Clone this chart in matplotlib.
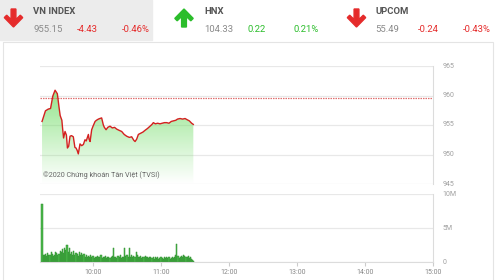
import numpy as np
import matplotlib.pyplot as plt
from matplotlib.patches import Polygon, Rectangle

# intraday VN-Index, minutes after 9:00
price_t = [15, 16, 18, 20.5, 22.5, 24.5, 26.5, 28.5, 30, 31, 32.5, 33, 34, 35.3, 36.5, 37.4, 38.5, 39.7,
           41, 42.6, 44, 45, 46, 47, 48.5, 50, 51.5, 52.9, 54, 55.9, 56.5, 57.4, 58.8, 60, 61.8, 63,
           64.7, 66, 67.6, 69.1, 70, 71.5, 73, 75, 77, 79, 80.9, 83, 85.3, 87.5, 89.7, 92, 94.1, 96,
           97.1, 98.5, 100, 102, 104, 105.9, 108, 110.3, 112, 113.2, 115, 117, 119.1, 121, 123, 125,
           127, 129, 130.9, 133, 134.5, 136.8, 139, 141.2, 143, 145, 147, 148.5]
price_v = [955.6, 956.2, 957.4, 957.7, 957.8, 959.9, 960.9, 960.3, 958.0, 956.6, 955.8, 954.7, 952.8,
           953.9, 953.3, 951.1, 951.4, 953.1, 953.2, 953.0, 951.2, 951.1, 950.7, 950.1, 951.8, 951.5,
           951.7, 952.5, 952.3, 953.4, 952.6, 952.2, 954.2, 954.8, 955.6, 955.8, 956.0, 956.1, 956.2,
           955.0, 954.6, 954.2, 954.6, 954.8, 954.5, 954.6, 954.3, 954.1, 953.9, 953.4, 953.1, 952.9,
           953.0, 952.4, 952.2, 952.6, 953.4, 953.6, 953.8, 954.1, 954.4, 954.8, 955.1, 955.4, 955.2,
           955.3, 955.2, 955.3, 955.4, 955.4, 955.3, 955.6, 955.7, 955.8, 956.0, 956.1, 956.0, 956.1,
           955.9, 955.7, 955.3, 955.1]
ref_close = 959.58

# volume per minute from 9:15 (millions)
volume = [8.5,
          1.1, 1.0, 1.2, 0.9, 1.3, 1.1, 1.0, 1.4, 1.2, 0.9, 1.1, 1.5, 1.3, 1.0, 1.2,
          1.6, 1.4, 1.9, 1.3, 2.1, 1.7, 2.5, 1.5, 2.0, 1.2,
          1.4, 1.1, 1.6, 1.0, 1.3, 1.2, 0.9, 1.4, 1.1, 1.3, 1.0, 1.2,
          0.8, 1.0, 0.7, 0.9, 0.8, 1.0, 0.7, 0.9, 0.6, 0.8, 0.7, 0.9, 0.8,
          0.7, 1.0, 0.6, 0.8, 0.7, 0.9, 0.6, 0.7, 0.8, 0.6, 0.7, 0.9,
          2.0,
          0.7, 0.8, 0.6, 0.9, 0.7, 1.0, 0.6, 0.8, 0.7,
          2.0, 0.9, 1.1, 0.7, 2.1, 0.8, 1.0,
          0.7, 0.9, 0.8, 1.5, 1.0,
          0.8, 0.7, 0.9, 0.6, 0.8, 0.7, 0.9, 0.7, 0.8, 0.6, 0.7, 0.8, 0.6, 0.7, 0.5, 0.7,
          0.6, 0.7, 0.5, 0.6, 0.7, 0.6, 0.5, 0.7, 0.6, 0.8, 0.6, 0.7, 0.5, 0.6, 0.7, 0.6, 0.8, 1.0,
          2.6, 0.9,
          0.6, 0.7, 0.9, 0.8, 1.0, 0.9, 0.8, 0.7, 0.9, 0.6, 0.7, 0.5, 0.3, 0.2]
vol_t = np.arange(15, 15 + len(volume))

x_ticks = [60, 120, 180, 240, 300, 360]
x_labels = ['10:00', '11:00', '12:00', '13:00', '14:00', '15:00']

# header indices
idx_names = ['VN INDEX', 'HNX', 'UPCOM']
idx_values = ['955.15', '104.33', '55.49']
idx_change = ['-4.43', '0.22', '-0.24']
idx_pct = ['-0.46%', '0.21%', '-0.43%']

RED = '#e52b2b'
GREEN = '#2bbd2b'
GRID = '#e8e8e8'
TXT = '#8a8a8a'

W, H = 496, 280
fig = plt.figure(figsize=(W / 100, H / 100), dpi=100)
fig.patch.set_facecolor('white')

# overlay in pixel coords for header
bg = fig.add_axes([0, 0, 1, 1])
bg.set_xlim(0, W)
bg.set_ylim(H, 0)
bg.axis('off')
bg.add_patch(Rectangle((0, 0), 152, 40, color='#ececec', zorder=0))
bg.add_patch(Rectangle((3, 42), 490, 245, fill=False, ec='#e4e4e4', lw=0.8))

def arrow(cx, up, color):
    pts = [(-2.4, 0), (2.4, 0), (2.4, 10.5), (6.8, 6.2), (9.2, 8.6), (0, 18), (-9.2, 8.6), (-6.8, 6.2), (-2.4, 10.5)]
    if up:
        pts = [(x, 27 - y) for x, y in pts]
    else:
        pts = [(x, 9 + y) for x, y in pts]
    bg.add_patch(Polygon([(cx + x, y) for x, y in pts], closed=True, color=color))

arrow_x = [13.5, 184, 356.5]
label_x = [33, 204, 375]
chg_x = [77, 248, 418]
pct_x = [122, 293, 463]
for i in range(3):
    down = idx_change[i].startswith('-')
    c = RED if down else GREEN
    arrow(arrow_x[i], not down, c)
    bg.text(label_x[i], 12, idx_names[i], fontsize=6.8, fontweight='bold', color='#555555',
            family='Roboto', va='center')
    bg.text(label_x[i], 29.5, idx_values[i], fontsize=6.8, color=TXT, family='Roboto', va='center')
    bg.text(chg_x[i], 29.5, idx_change[i], fontsize=6.8, color=c, family='Roboto', va='center')
    bg.text(pct_x[i], 29.5, idx_pct[i], fontsize=6.8, color=c, family='Roboto', va='center')

left = 40 / W
width = 393 / W
ax = fig.add_axes([left, (H - 184) / H, width, 118 / H])
vax = fig.add_axes([left, (H - 262) / H, width, 68 / H])

for a in (ax, vax):
    a.set_xlim(13.2, 360)
    for s in ['left', 'top', 'bottom']:
        a.spines[s].set_visible(False)
    a.spines['right'].set_color('#dcdcdc')
    a.spines['right'].set_linewidth(0.8)
    a.grid(axis='y', color=GRID, lw=0.9)
    a.set_axisbelow(True)
    a.yaxis.tick_right()
    a.tick_params(axis='y', length=0, labelsize=5, labelcolor='#a0a0a0', pad=7)

# price panel
ax.set_ylim(945, 965)
ax.set_yticks([945, 950, 955, 960, 965])
ax.set_yticklabels(['945', '950', '955', '960', '965'], family='Roboto', va='center')
ax.set_xticks([])
fill = ax.fill_between(price_t, price_v, 945, color='none', lw=0)
grad = np.zeros((100, 2, 4))
grad[:, :, 0] = 0.42
grad[:, :, 1] = 0.86
grad[:, :, 2] = 0.38
grad[:, :, 3] = np.linspace(0.78, 0.0, 100)[:, None]
img = ax.imshow(grad, extent=[min(price_t), max(price_t), 945, 962], aspect='auto',
                origin='upper', zorder=1)
img.set_clip_path(fill.get_paths()[0], transform=ax.transData)
ax.plot(price_t, price_v, color='#d42020', lw=1.0, zorder=3)
ax.axhline(ref_close, color='#e07070', lw=0.9, ls=(0, (1.2, 0.8)), zorder=2)
ax.text(16, 946.2, '©2020 Chứng khoán Tân Việt (TVSI)', fontsize=5.2, color='#666666',
        family=['Roboto', 'DejaVu Sans'])

# volume panel
vax.set_ylim(0, 10)
vax.set_yticks([0, 5, 10])
vax.set_yticklabels(['0', '5M', '10M'], family='Roboto', va='center')
vax.spines['bottom'].set_visible(True)
vax.spines['bottom'].set_color('#dcdcdc')
vax.spines['bottom'].set_linewidth(0.8)
vax.bar(vol_t, volume, width=1.0, color='#4cb84c', edgecolor='#2f8f2f', lw=0.35, zorder=2)
vax.set_xticks(x_ticks)
vax.set_xticklabels(x_labels, family='Roboto')
vax.tick_params(axis='x', length=3, color='#cccccc', labelsize=5, labelcolor='#888888', pad=2)

fig.savefig('out.png', dpi=100)
